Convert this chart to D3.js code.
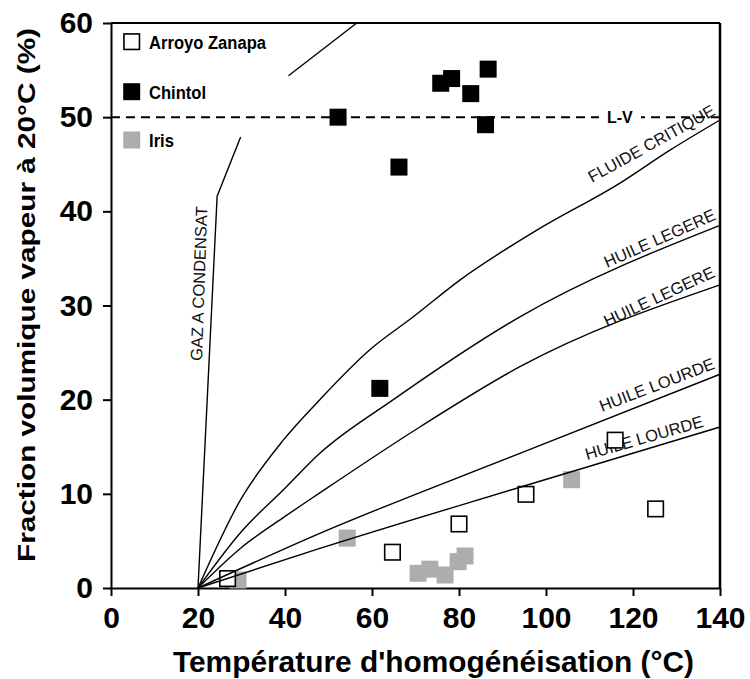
<!DOCTYPE html>
<html>
<head>
<meta charset="utf-8">
<script src="https://cdn.jsdelivr.net/npm/d3@7"></script>
<style>
  html, body { margin: 0; padding: 0; background: #fff; }
  svg { display: block; font-family: "Liberation Sans", Arial, sans-serif; }
</style>
</head>
<body>
<svg id="chart" width="750" height="679"></svg>
<script>
// ---------------- DATA ----------------
const xTicks = [0, 20, 40, 60, 80, 100, 120, 140];
const yTicks = [0, 10, 20, 30, 40, 50, 60];

const seriesNames = ["Arroyo Zanapa", "Chintol", "Iris"];

// Arroyo Zanapa (open squares) [T homog., vapour %]
const arroyoZanapa = [
  [26.8, 1.0], [64.7, 3.8], [80.0, 6.8], [95.4, 9.95], [115.9, 15.7], [125.2, 8.4]
];
// Chintol (black squares)
const chintol = [
  [52.2, 50.0], [61.8, 21.2], [66.2, 44.7], [75.8, 53.6],
  [78.3, 54.1], [82.7, 52.5], [86.7, 55.1], [86.1, 49.2]
];
// Iris (grey squares)
const iris = [
  [29.2, 0.85], [54.3, 5.3], [70.6, 1.56], [73.3, 2.0], [76.8, 1.38],
  [79.8, 2.8], [81.4, 3.4], [105.9, 11.5]
];

// reference curves
const curveNames = ["GAZ A CONDENSAT", "FLUIDE CRITIQUE", "HUILE LEGERE", "HUILE LEGERE", "HUILE LOURDE", "HUILE LOURDE"];
const gazCondensat = [[20, 0], [24.4, 41.6], [29.8, 47.9]];
const gazUpper = [[40.8, 54.4], [56.5, 60]];
const fluideCritique = [[20, 0], [29.7, 9.3], [39.6, 15.7], [48, 20], [59.5, 25.3], [69.5, 28.8], [80.2, 32.7], [97.9, 38], [117, 43], [128.5, 46.5], [140, 49.7]];
const huileLegere1 = [[20, 0], [30, 6.0], [40, 10.6], [48, 14.3], [64.9, 20], [94, 28.8], [140, 38.5]];
const huileLegere2 = [[20, 0], [30, 4.3], [40, 7.6], [48, 10.1], [71, 17.1], [94, 23.5], [140, 32.2]];
const huileLourde1 = [[20, 0], [48, 5.8], [94, 14.3], [140, 22.7]];
const huileLourde2 = [[20, 0], [48, 4.2], [94, 10.7], [140, 17.1]];
const lvLevel = 50;
const lvLabel = "L-V";

const xTitle = "Température d'homogénéisation (°C)";
const yTitle = "Fraction volumique vapeur à 20°C (%)";

// ---------------- CHART ----------------
const svg = d3.select("#chart");
const x = d3.scaleLinear().domain([0, 140]).range([111, 720]);
const y = d3.scaleLinear().domain([0, 60]).range([588, 23]);

const gAxes = svg.append("g");

// frame (top and right)
gAxes.append("line").attr("x1", x(0)).attr("x2", x(140)).attr("y1", y(60)).attr("y2", y(60))
  .attr("stroke", "#000").attr("stroke-width", 2);
gAxes.append("line").attr("x1", x(140)).attr("x2", x(140)).attr("y1", y(60)).attr("y2", y(0))
  .attr("stroke", "#000").attr("stroke-width", 2.5);

const xAxis = gAxes.append("g").attr("transform", `translate(0,${y(0)})`)
  .call(d3.axisBottom(x).tickValues(xTicks).tickFormat(d3.format("d")).tickSize(8).tickSizeOuter(0).tickPadding(11));
const yAxis = gAxes.append("g").attr("transform", `translate(${x(0)},0)`)
  .call(d3.axisLeft(y).tickValues(yTicks).tickFormat(d3.format("d")).tickSize(8).tickSizeOuter(0).tickPadding(10));

[xAxis, yAxis].forEach(a => {
  a.select(".domain").attr("stroke", "#000").attr("stroke-width", 2);
  a.selectAll(".tick line").attr("stroke", "#000").attr("stroke-width", 2);
  a.selectAll(".tick text").attr("fill", "#000")
    .style("font-family", "'Liberation Sans', Arial, sans-serif")
    .style("font-size", "30px").style("font-weight", "bold");
});

// axis titles
svg.append("text").attr("x", 433.5).attr("y", 672).attr("text-anchor", "middle")
  .attr("textLength", 521).attr("lengthAdjust", "spacingAndGlyphs")
  .style("font-size", "29px").style("font-weight", "bold").text(xTitle);
svg.append("text").attr("transform", "translate(35,295) rotate(-90)").attr("text-anchor", "middle")
  .attr("textLength", 534).attr("lengthAdjust", "spacingAndGlyphs")
  .style("font-size", "23px").style("font-weight", "bold").text(yTitle);

// L-V dashed line
svg.append("line").attr("x1", x(0)).attr("x2", x(140)).attr("y1", y(lvLevel)).attr("y2", y(lvLevel))
  .attr("stroke", "#000").attr("stroke-width", 2).attr("stroke-dasharray", "9,6");
svg.append("rect").attr("x", 599).attr("y", y(lvLevel) - 3).attr("width", 42).attr("height", 6).attr("fill", "#fff");
svg.append("text").attr("x", 607).attr("y", y(lvLevel) + 5.5)
  .style("font-size", "16px").style("font-weight", "bold").text(lvLabel);

// curve labels
const curveLabels = [
  { text: curveNames[0], px: 202, py: 361, angle: -88 },
  { text: curveNames[1], px: 592, py: 183, angle: -29 },
  { text: curveNames[2], px: 607, py: 268, angle: -24 },
  { text: curveNames[3], px: 607, py: 327, angle: -25 },
  { text: curveNames[4], px: 602, py: 412, angle: -21 },
  { text: curveNames[5], px: 587, py: 460, angle: -16 }
];
svg.append("g").selectAll("text").data(curveLabels).join("text")
  .attr("transform", d => `translate(${d.px},${d.py}) rotate(${d.angle})`)
  .style("font-size", "16.5px").attr("fill", "#111").text(d => d.text);

// markers
const S = 17;
const gM = svg.append("g");
gM.selectAll("rect.iris").data(iris).join("rect").attr("class", "iris")
  .attr("x", d => x(d[0]) - S / 2).attr("y", d => y(d[1]) - S / 2)
  .attr("width", S).attr("height", S).attr("fill", "#adadad");
gM.selectAll("rect.arroyo").data(arroyoZanapa).join("rect").attr("class", "arroyo")
  .attr("x", d => x(d[0]) - (S - 1.5) / 2).attr("y", d => y(d[1]) - (S - 1.5) / 2)
  .attr("width", S - 1.5).attr("height", S - 1.5).attr("fill", "#fff").attr("stroke", "#000").attr("stroke-width", 1.6);
gM.selectAll("rect.chintol").data(chintol).join("rect").attr("class", "chintol")
  .attr("x", d => x(d[0]) - S / 2).attr("y", d => y(d[1]) - S / 2)
  .attr("width", S).attr("height", S).attr("fill", "#000");

// curves
const line = d3.line().x(d => x(d[0])).y(d => y(d[1]));
const smooth = d3.line().x(d => x(d[0])).y(d => y(d[1])).curve(d3.curveMonotoneX);
const gC = svg.append("g").attr("fill", "none").attr("stroke", "#000").attr("stroke-width", 1.4);
gC.append("path").attr("d", line(gazCondensat));
gC.append("path").attr("d", line(gazUpper));
[fluideCritique, huileLegere1, huileLegere2, huileLourde1, huileLourde2].forEach(c => {
  gC.append("path").attr("d", smooth(c));
});

// legend
const legendItems = [
  { name: seriesNames[0], cy: 41.7, fill: "#fff", stroke: "#000", len: 117 },
  { name: seriesNames[1], cy: 91.7, fill: "#000", stroke: "none", len: 57 },
  { name: seriesNames[2], cy: 140, fill: "#adadad", stroke: "none", len: 25 }
];
const gL = svg.append("g");
legendItems.forEach(it => {
  const s = it.stroke === "none" ? S : S - 1.5;
  gL.append("rect").attr("x", 131.7 - s / 2).attr("y", it.cy - s / 2).attr("width", s).attr("height", s)
    .attr("fill", it.fill).attr("stroke", it.stroke).attr("stroke-width", 1.6);
  gL.append("text").attr("x", 149).attr("y", it.cy + 6.8)
    .attr("textLength", it.len).attr("lengthAdjust", "spacingAndGlyphs")
    .style("font-size", "18px").style("font-weight", "bold").text(it.name);
});
</script>
</body>
</html>
